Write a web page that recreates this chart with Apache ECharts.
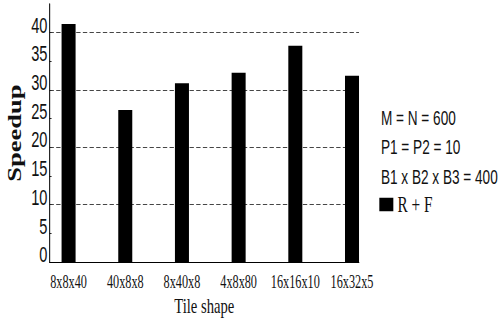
<!DOCTYPE html>
<html>
<head>
<meta charset="utf-8">
<script src="https://cdn.jsdelivr.net/npm/echarts@6/dist/echarts.min.js"></script>
<style>
  html, body { margin: 0; padding: 0; background: #fff; overflow: hidden; width: 500px; height: 322px; }
  /* the figure is laid out on a wider canvas and compressed horizontally */
  #chart { width: 735px; height: 322px; transform: scaleX(0.68027); transform-origin: 0 0; }
</style>
</head>
<body>
<div id="chart"></div>
<script>
// Tile shapes tested and the speedup measured for each
const categories = ['8x8x40', '40x8x8', '8x40x8', '4x8x80', '16x16x10', '16x32x5'];
const speedup = [41.5, 26.5, 31.2, 33.0, 37.7, 32.5];

// Axis ticks and dashed reference lines
const yTicks = [0, 5, 10, 15, 20, 25, 30, 35, 40];
const gridValues = [10, 20, 30, 40];

// Problem parameters shown beside the plot
const paramLines = ['M = N = 600', 'P1 = P2 = 10', 'B1 x B2 x B3 = 400'];
const seriesName = 'R + F';

const positions = categories.map((c, i) => i + 1);

const chart = echarts.init(document.getElementById('chart'), null, { renderer: 'svg' });

chart.setOption({
  animation: false,
  backgroundColor: '#fff',
  grid: { left: 69.8, right: 207.3, top: 4, bottom: 51.7 },
  title: {
    text: paramLines.join('\n'),
    left: 560,
    top: 103.5,
    padding: 0,
    textStyle: {
      fontFamily: 'Liberation Sans, Arial, sans-serif',
      fontSize: 20,
      fontWeight: 'normal',
      color: '#111',
      lineHeight: 29.5
    }
  },
  legend: {
    data: [seriesName],
    left: 557.6,
    top: 193,
    padding: 0,
    icon: 'rect',
    itemWidth: 20.6,
    itemHeight: 13.5,
    textStyle: {
      fontFamily: 'Liberation Serif, Times New Roman, serif',
      fontSize: 22.5,
      color: '#111',
      padding: [0, 0, 0, 1]
    }
  },
  xAxis: {
    type: 'value',
    min: 0.664,
    max: 6.123,
    name: 'Tile shape',
    nameLocation: 'middle',
    nameGap: 30,
    nameTextStyle: {
      fontFamily: 'Liberation Serif, Times New Roman, serif',
      fontSize: 21.5,
      color: '#111'
    },
    axisLine: { show: true, onZero: false, lineStyle: { color: '#000', width: 1.2 } },
    axisTick: { show: false },
    splitLine: { show: false },
    axisLabel: {
      customValues: positions,
      formatter: v => categories[Math.round(v) - 1] || '',
      margin: 10,
      fontFamily: 'Liberation Serif, Times New Roman, serif',
      fontSize: 18,
      color: '#111'
    }
  },
  yAxis: {
    type: 'value',
    min: 0,
    max: 45,
    interval: 5,
    name: 'Speedup',
    nameLocation: 'middle',
    nameRotate: 90,
    nameGap: 36,
    nameTextStyle: {
      fontFamily: 'Liberation Serif, Times New Roman, serif',
      fontSize: 26.5,
      fontWeight: 'bold',
      color: '#111'
    },
    axisLine: { show: true, lineStyle: { color: '#000', width: 1.5 } },
    axisTick: {
      show: true,
      inside: true,
      length: 3,
      customValues: yTicks,
      lineStyle: { color: '#000', width: 1 }
    },
    splitLine: { show: false },
    axisLabel: {
      customValues: yTicks,
      margin: 3,
      fontFamily: 'Liberation Sans, Arial, sans-serif',
      fontSize: 21.5,
      color: '#111',
      verticalAlign: 'bottom',
      lineHeight: 15
    }
  },
  series: [{
    name: seriesName,
    type: 'bar',
    data: positions.map((p, i) => [p, speedup[i]]),
    barWidth: 20.6,
    itemStyle: { color: '#000' },
    z: 3,
    markLine: {
      silent: true,
      z: 1,
      symbol: ['none', 'none'],
      label: { show: false },
      lineStyle: { color: '#222', width: 1, type: [6.4, 3.4] },
      emphasis: { disabled: true },
      data: gridValues.map(v => ({ yAxis: v }))
    }
  }]
});
</script>
</body>
</html>
